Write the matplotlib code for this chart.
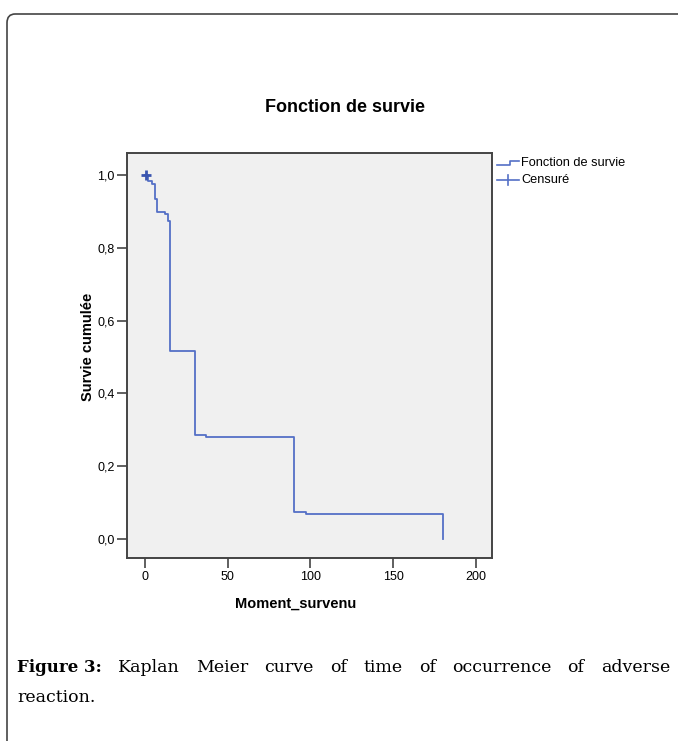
import matplotlib
matplotlib.use("Agg")
import matplotlib.pyplot as plt
from matplotlib.lines import Line2D
from matplotlib.patches import FancyBboxPatch

# Kaplan-Meier estimate
times = [0, 2, 4, 6, 7, 12, 14, 15, 30, 37, 90, 97, 180]
survival = [1.0, 0.984, 0.975, 0.934, 0.899, 0.893, 0.874, 0.515, 0.286, 0.279, 0.075, 0.068, 0.0]
censored_times = [0.5]
censored_surv = [1.0]

x_ticks = [0, 50, 100, 150, 200]
y_ticks = [0.0, 0.2, 0.4, 0.6, 0.8, 1.0]
y_tick_labels = ["0,0", "0,2", "0,4", "0,6", "0,8", "1,0"]

title = "Fonction de survie"
x_label = "Moment_survenu"
y_label = "Survie cumulée"
legend_labels = ["Fonction de survie", "Censuré"]
caption_bold = "Figure 3:"
caption_words = "Kaplan Meier curve of time of occurrence of adverse".split()
caption_line2 = "reaction."

W, H = 678, 741
CURVE = "#5470c6"
SANS = "Liberation Sans"
SERIF = "DejaVu Serif"


def px(x, y):
    return x / W, 1 - y / H


fig = plt.figure(figsize=(W / 100, H / 100), dpi=100)
fig.patch.set_facecolor("white")

# rounded page border
border = FancyBboxPatch(px(7, 800), (700 / W), (786 / H),
                        boxstyle="round,pad=0,rounding_size=0.012",
                        transform=fig.transFigure, fill=False,
                        edgecolor="#444444", linewidth=1.2)
fig.add_artist(border)

left, right = 127 / W, 492 / W
top, bottom = 1 - 153 / H, 1 - 558 / H
ax = fig.add_axes([left, bottom, right - left, top - bottom])
ax.set_facecolor("#f0f0f0")

ax.step(times, survival, where="post", color=CURVE, linewidth=1.3)
ax.plot(censored_times, censored_surv, linestyle="none", marker="+",
        markersize=7, markeredgewidth=2, color="#3a55b0")

ax.set_xlim(-10.9, 209.7)
ax.set_ylim(-0.052, 1.060)
ax.set_xticks(x_ticks)
ax.set_xticklabels([str(t) for t in x_ticks], fontfamily=SANS, fontsize=9)
ax.set_yticks(y_ticks)
ax.set_yticklabels(y_tick_labels, fontfamily=SANS, fontsize=9)
ax.tick_params(direction="out", length=7, width=1.2, color="#444444", pad=2)
for spine in ax.spines.values():
    spine.set_color("#444444")
    spine.set_linewidth(1.4)

fig.text(*px(345, 108), title, ha="center", va="center",
         fontfamily=SANS, fontweight="bold", fontsize=13)
fig.text(*px(296, 604), x_label, ha="center", va="center",
         fontfamily=SANS, fontweight="bold", fontsize=10.5)
fig.text(*px(88, 347), y_label, ha="center", va="center", rotation=90,
         fontfamily=SANS, fontweight="bold", fontsize=10.5)

# legend drawn outside the axes, SPSS style
lx = [497, 510, 510, 519]
ly = [165, 165, 161, 161]
fig.add_artist(Line2D([x / W for x in lx], [1 - y / H for y in ly],
                      transform=fig.transFigure, color=CURVE, linewidth=1.2))
fig.text(*px(521, 163), legend_labels[0], ha="left", va="center",
         fontfamily=SANS, fontsize=9.2)
fig.add_artist(Line2D([497 / W, 519 / W], [1 - 180 / H, 1 - 180 / H],
                      transform=fig.transFigure, color=CURVE, linewidth=1.2))
fig.add_artist(Line2D([508 / W, 508 / W], [1 - 175 / H, 1 - 185 / H],
                      transform=fig.transFigure, color=CURVE, linewidth=1.2))
fig.text(*px(521, 180), legend_labels[1], ha="left", va="center",
         fontfamily=SANS, fontsize=9.2)

# caption, first line justified between x=17 and x=670
renderer = fig.canvas.get_renderer()
y1 = 1 - 667 / H
head = fig.text(17 / W, y1, caption_bold, ha="left", va="center",
                fontfamily=SERIF, fontweight="bold", fontsize=12)
head_w = head.get_window_extent(renderer).width
word_texts = [fig.text(0, y1, w, ha="left", va="center",
                       fontfamily=SERIF, fontsize=12.5) for w in caption_words]
widths = [t.get_window_extent(renderer).width for t in word_texts]
gap = (670 - 17 - head_w - sum(widths)) / len(caption_words)
x = 17 + head_w + gap
for t, w in zip(word_texts, widths):
    t.set_x(x / W)
    x += w + gap
fig.text(*px(17, 697), caption_line2, ha="left", va="center",
         fontfamily=SERIF, fontsize=12.5)

fig.savefig("out.png", dpi=100)
